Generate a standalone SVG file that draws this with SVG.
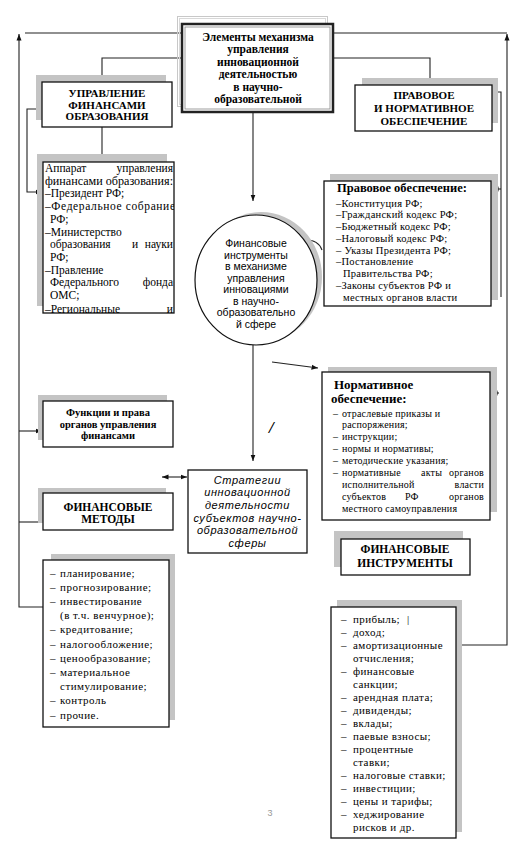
<svg xmlns="http://www.w3.org/2000/svg" width="527" height="846" viewBox="0 0 527 846">
<style>
.sh{fill:#c4c4c4}
.bx{fill:#fff;stroke:#111;stroke-width:1.3}
.ln{fill:none;stroke:#222;stroke-width:1.1}
.h{font-family:"Liberation Serif",serif;font-weight:bold;fill:#000;text-anchor:middle}
.t{font-family:"Liberation Serif",serif;fill:#000}
.s{font-family:"Liberation Sans",sans-serif;fill:#000;text-anchor:middle}
.e{text-anchor:end}
</style>
<defs>
<marker id="ah" markerUnits="userSpaceOnUse" markerWidth="8" markerHeight="8" refX="6.5" refY="3" orient="auto-start-reverse">
<path d="M0,0.5 L6.5,3 L0,5.5 z" fill="#111"/>
</marker>
<clipPath id="clipL"><rect x="43" y="162" width="131" height="151"/></clipPath>
</defs>
<rect width="527" height="846" fill="#fff"/>

<g id="connectors">
<path class="ln" d="M182,33 H25"/>
<path class="ln" d="M43,607 H19 V34" marker-end="url(#ah)"/>
<path class="ln" d="M333,33 H507"/>
<path class="ln" d="M456,645 H507 V34" marker-end="url(#ah)"/>
<path class="ln" d="M182,58 H102 V81" marker-end="url(#ah)"/>
<path class="ln" d="M333,58 H430 V84" marker-end="url(#ah)"/>
<path class="ln" d="M253,113 V201" marker-end="url(#ah)"/>
<path class="ln" d="M42,109 H27 V192 H42" marker-end="url(#ah)"/>
<path class="ln" d="M102,127 V162"/>
<path class="ln" d="M492,92 H501 V297"/>
<path class="ln" d="M501,189 H492" marker-end="url(#ah)"/>
<path class="ln" d="M499,393 H491" marker-end="url(#ah)"/>
<path class="ln" d="M322,250 Q318,238 300,240" marker-end="url(#ah)"/>
<path class="ln" d="M272,362 L318,368" marker-end="url(#ah)"/>
<path class="ln" d="M253,345 V461" marker-end="url(#ah)"/>
<path class="ln" d="M162,477 H187" marker-start="url(#ah)" marker-end="url(#ah)"/>
<path class="ln" d="M19,431 H42" marker-end="url(#ah)"/>
<path class="ln" d="M19,522 H43"/>
</g>

<g id="top">
<rect x="177.5" y="16.5" width="150" height="90" fill="none" stroke="#c8c8c8" stroke-width="1"/>
<rect x="179.5" y="18.5" width="146" height="86" fill="none" stroke="#d8d8d8" stroke-width="1"/>
<rect x="182" y="24" width="151" height="88" fill="#fff" stroke="#222" stroke-width="2.5"/>
<rect x="185" y="27" width="145" height="82" fill="none" stroke="#888" stroke-width="0.8"/>
<text class="h" font-size="11.5" x="258"><tspan x="258" y="40.5">Элементы механизма</tspan><tspan x="258" y="53">управления</tspan><tspan x="258" y="65.5">инновационной</tspan><tspan x="258" y="78">деятельностью</tspan><tspan x="258" y="90.5">в научно-</tspan><tspan x="258" y="103">образовательной</tspan></text>
</g>

<g id="upr">
<rect class="sh" x="36" y="75" width="130" height="45"/>
<rect class="bx" x="42" y="82" width="130" height="45"/>
<text class="h" font-size="11"><tspan x="107" y="97">УПРАВЛЕНИЕ</tspan><tspan x="107" y="108.5">ФИНАНСАМИ</tspan><tspan x="107" y="120">ОБРАЗОВАНИЯ</tspan></text>
</g>

<g id="apparat">
<rect class="sh" x="37" y="154" width="130" height="152"/>
<rect class="bx" x="43" y="162" width="131" height="151"/>
<g class="t" font-size="11.5" clip-path="url(#clipL)">
<text x="45" y="172">Аппарат</text><text class="e" x="173" y="172">управления</text>
<text x="45" y="184.7" textLength="128" lengthAdjust="spacingAndGlyphs">финансами образования:</text>
<text x="45" y="197.4">–Президент РФ;</text>
<text x="45" y="210.1" textLength="130" lengthAdjust="spacing">–Федеральное собрание</text>
<text x="50" y="222.8">РФ;</text>
<text x="45" y="235.5">–Министерство</text>
<text x="50" y="248.2">образования</text><text x="132" y="248.2">и</text><text class="e" x="173" y="248.2">науки</text>
<text x="50" y="260.9">РФ;</text>
<text x="45" y="273.6">–Правление</text>
<text x="50" y="286.3">Федерального</text><text class="e" x="173" y="286.3">фонда</text>
<text x="50" y="299">ОМС;</text>
<text x="45" y="313">–Региональные</text><text class="e" x="173" y="313">и</text>
</g>
</g>

<g id="pravnorm">
<rect class="sh" x="362" y="78" width="136" height="45"/>
<rect class="bx" x="355" y="85" width="137" height="46"/>
<text class="h" font-size="11"><tspan x="424" y="99">ПРАВОВОЕ</tspan><tspan x="424" y="112">И НОРМАТИВНОЕ</tspan><tspan x="424" y="125">ОБЕСПЕЧЕНИЕ</tspan></text>
</g>

<g id="pravovoe">
<rect class="sh" x="330" y="174" width="168" height="126"/>
<rect class="bx" x="324" y="181" width="167" height="125"/>
<text class="t" font-size="12.5" font-weight="bold" x="337" y="192">Правовое обеспечение:</text>
<g class="t" font-size="10.5" letter-spacing="0.25">
<text x="336" y="206.5">–Конституция РФ;</text>
<text x="336" y="218.2">–Гражданский кодекс РФ;</text>
<text x="336" y="230">–Бюджетный кодекс РФ;</text>
<text x="336" y="241.7">–Налоговый кодекс РФ;</text>
<text x="336" y="253.5">– Указы Президента РФ;</text>
<text x="336" y="265.2">–Постановление</text>
<text x="343" y="277">Правительства РФ;</text>
<text x="336" y="288.7">–Законы субъектов РФ и</text>
<text x="343" y="300.5">местных органов власти</text>
</g>
</g>

<g id="circle">
<ellipse cx="261" cy="277" rx="61" ry="65" class="sh"/>
<ellipse cx="256" cy="280" rx="61" ry="65" fill="#fff" stroke="#111" stroke-width="1.2"/>
<text class="s" font-size="10.5"><tspan x="256" y="247">Финансовые</tspan><tspan x="256" y="258.5">инструменты</tspan><tspan x="256" y="270">в механизме</tspan><tspan x="256" y="281.5">управления</tspan><tspan x="256" y="293">инновациями</tspan><tspan x="256" y="304.5">в научно-</tspan><tspan x="256" y="316">образовательно</tspan><tspan x="256" y="327.5">й сфере</tspan></text>
</g>

<g id="normativ">
<rect class="sh" x="328" y="367" width="169" height="145"/>
<rect class="bx" x="322" y="372" width="168" height="148"/>
<text class="t" font-size="13" font-weight="bold" x="334" y="389">Нормативное</text>
<text class="t" font-size="13" font-weight="bold" x="331" y="403">обеспечение:</text>
<g class="t" font-size="10" letter-spacing="0.2">
<text x="333" y="416.5">–</text><text x="342" y="416.5">отраслевые приказы и</text>
<text x="342" y="428.4">распоряжения;</text>
<text x="333" y="440.3">–</text><text x="342" y="440.3">инструкции;</text>
<text x="333" y="452.2">–</text><text x="342" y="452.2">нормы и нормативы;</text>
<text x="333" y="464.1">–</text><text x="342" y="464.1">методические указания;</text>
<text x="333" y="476">–</text><text x="342" y="476">нормативные</text><text x="421" y="476">акты</text><text class="e" x="484" y="476">органов</text>
<text x="342" y="487.9">исполнительной</text><text class="e" x="484" y="487.9">власти</text>
<text x="342" y="499.8">субъектов</text><text x="405" y="499.8">РФ</text><text class="e" x="484" y="499.8">органов</text>
<text x="342" y="511.7">местного самоуправления</text>
</g>
</g>

<g id="slash">
<text class="t" font-size="17" font-weight="bold" font-style="italic" x="269" y="433">/</text>
</g>

<g id="funkcii">
<rect class="sh" x="38" y="395" width="129" height="45"/>
<rect class="bx" x="43" y="401" width="130" height="46"/>
<text class="h" font-size="10.5"><tspan x="108" y="416">Функции и права</tspan><tspan x="108" y="427.5">органов управления</tspan><tspan x="108" y="439">финансами</tspan></text>
</g>

<g id="strategii">
<rect class="bx" x="188" y="470" width="119" height="83"/>
<text class="s" font-size="11" font-style="italic" letter-spacing="0.6"><tspan x="247.5" y="483.5">Стратегии</tspan><tspan x="247.5" y="496.3">инновационной</tspan><tspan x="247.5" y="509">деятельности</tspan><tspan x="247.5" y="521.7">субъектов научно-</tspan><tspan x="247.5" y="534.4">образовательной</tspan><tspan x="247.5" y="547">сферы</tspan></text>
</g>

<g id="metody">
<rect class="sh" x="38" y="488" width="128" height="35"/>
<rect class="bx" x="43" y="493" width="130" height="37"/>
<text class="h" font-size="11.5"><tspan x="108" y="511">ФИНАНСОВЫЕ</tspan><tspan x="108" y="523">МЕТОДЫ</tspan></text>
</g>

<g id="metody-list">
<rect class="sh" x="51" y="554" width="124" height="166"/>
<rect class="bx" x="43" y="560" width="126" height="167"/>
<g class="t" font-size="11" letter-spacing="0.5">
<text x="50" y="576.5">–</text><text x="60" y="576.5">планирование;</text>
<text x="50" y="590.7">–</text><text x="60" y="590.7">прогнозирование;</text>
<text x="50" y="604.9">–</text><text x="60" y="604.9">инвестирование</text>
<text x="60" y="619.1">(в т.ч. венчурное);</text>
<text x="50" y="633.3">–</text><text x="60" y="633.3">кредитование;</text>
<text x="50" y="647.5">–</text><text x="60" y="647.5">налогообложение;</text>
<text x="50" y="661.7">–</text><text x="60" y="661.7">ценообразование;</text>
<text x="50" y="675.9">–</text><text x="60" y="675.9">материальное</text>
<text x="60" y="690.1">стимулирование;</text>
<text x="50" y="704.3">–</text><text x="60" y="704.3">контроль</text>
<text x="50" y="718.5">–</text><text x="60" y="718.5">прочие.</text>
</g>
</g>

<g id="instr">
<rect class="sh" x="334" y="531" width="129" height="36"/>
<rect class="bx" x="341" y="539" width="129" height="36"/>
<text class="h" font-size="11.5"><tspan x="405" y="553">ФИНАНСОВЫЕ</tspan><tspan x="405" y="567">ИНСТРУМЕНТЫ</tspan></text>
</g>

<g id="instr-list">
<rect class="sh" x="337" y="600" width="125" height="232"/>
<rect class="bx" x="331" y="607" width="125" height="231"/>
<g class="t" font-size="11" letter-spacing="0.4">
<text x="341" y="622.5">–</text><text x="353" y="622.5">прибыль;</text><text x="407" y="622.5">|</text>
<text x="341" y="635.6">–</text><text x="353" y="635.6">доход;</text>
<text x="341" y="648.6">–</text><text x="353" y="648.6">амортизационные</text>
<text x="353" y="661.7">отчисления;</text>
<text x="341" y="674.7">–</text><text x="353" y="674.7">финансовые</text>
<text x="353" y="687.8">санкции;</text>
<text x="341" y="700.9">–</text><text x="353" y="700.9">арендная плата;</text>
<text x="341" y="713.9">–</text><text x="353" y="713.9">дивиденды;</text>
<text x="341" y="727">–</text><text x="353" y="727">вклады;</text>
<text x="341" y="740">–</text><text x="353" y="740">паевые взносы;</text>
<text x="341" y="753.1">–</text><text x="353" y="753.1">процентные</text>
<text x="353" y="766.2">ставки;</text>
<text x="341" y="779.2">–</text><text x="353" y="779.2">налоговые ставки;</text>
<text x="341" y="792.3">–</text><text x="353" y="792.3">инвестиции;</text>
<text x="341" y="805.3">–</text><text x="353" y="805.3">цены и тарифы;</text>
<text x="341" y="818.4">–</text><text x="353" y="818.4">хеджирование</text>
<text x="353" y="831.4">рисков и др.</text>
</g>
</g>

<g id="page">
<text class="s" font-size="9" style="fill:#999" x="270" y="816">3</text>
</g>
</svg>
